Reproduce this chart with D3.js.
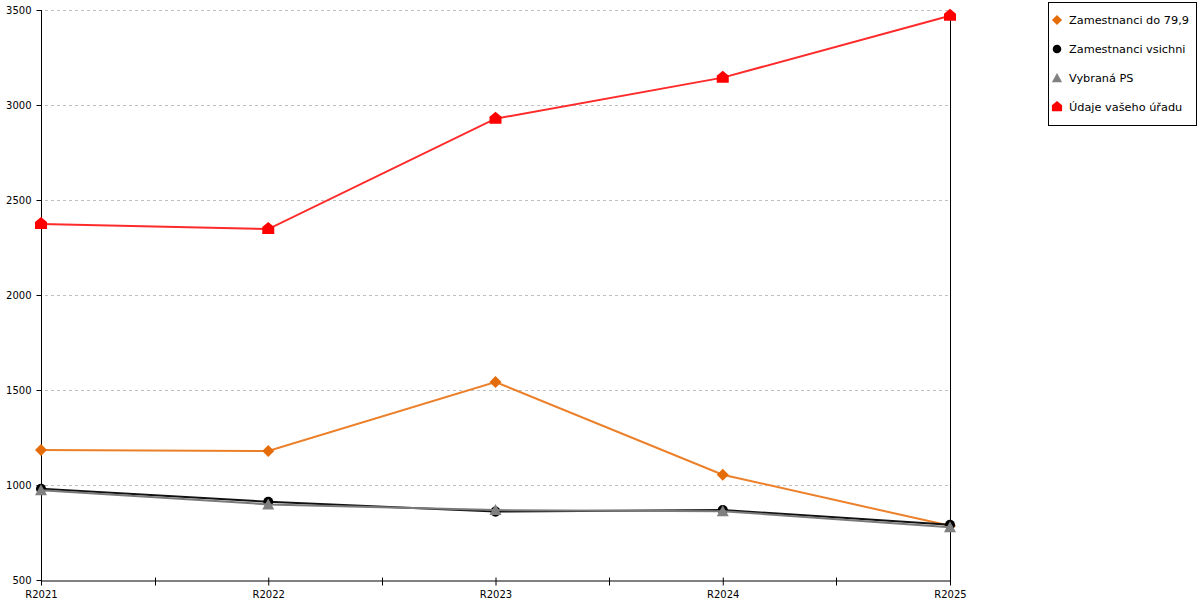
<html>
<head>
<script src="https://d3js.org/d3.v7.min.js"></script>
<style>
  body { margin: 0; background: #fff; }
  text { font-family: "DejaVu Sans", sans-serif; fill: #000; }
</style>
</head>
<body>
<script>
var years = ["R2021", "R2022", "R2023", "R2024", "R2025"];
var yTicks = [500, 1000, 1500, 2000, 2500, 3000, 3500];

var seriesNames = ["Zamestnanci do 79,9", "Zamestnanci vsichni", "Vybraná PS", "Údaje vašeho úřadu"];
var do799 = [1184, 1179, 1542, 1054, 785];
var vsichni = [980, 912, 860, 868, 791];
var vybranaPS = [972, 898, 868, 862, 778];
var udaje = [2374, 2347, 2928, 3144, 3470];

var width = 1200, height = 600;
var margin = {top: 10, right: 250, bottom: 20, left: 41};

var svg = d3.select("body").append("svg")
    .attr("width", width)
    .attr("height", height);

var x = d3.scalePoint()
    .domain(years)
    .range([margin.left, width - margin.right]);

var y = d3.scaleLinear()
    .domain([500, 3500])
    .range([height - margin.bottom, margin.top]);

// dashed grid
svg.append("g")
    .selectAll("line")
    .data(yTicks.slice(1)).enter()
    .append("line")
    .attr("x1", margin.left + 4)
    .attr("x2", width - margin.right)
    .attr("y1", d => Math.round(y(d)) + 0.5)
    .attr("y2", d => Math.round(y(d)) + 0.5)
    .attr("stroke", "#c0c0c0")
    .attr("stroke-dasharray", "3,3");

// right frame line
svg.append("line")
    .attr("x1", width - margin.right + 0.5)
    .attr("x2", width - margin.right + 0.5)
    .attr("y1", y(3500))
    .attr("y2", y(500))
    .attr("stroke", "#000");

// y axis
svg.append("g")
    .attr("transform", "translate(" + (margin.left + 0.5) + ",0)")
    .call(d3.axisLeft(y).tickValues(yTicks).tickSize(5).tickPadding(5).tickFormat(d3.format("d")))
    .call(g => g.select(".domain").attr("d", "M0," + y(3500) + "V" + y(500)))
    .call(g => g.selectAll("text").style("font-family", "DejaVu Sans").style("font-size", "10px").attr("fill", "#000"));

// x axis
var mids = d3.pairs(years).map(p => (x(p[0]) + x(p[1])) / 2);
svg.append("g")
    .attr("transform", "translate(0," + (Math.round(y(500)) + 0.5) + ")")
    .call(d3.axisBottom(x).tickSize(5).tickPadding(5).tickSizeOuter(0))
    .call(g => g.selectAll(".tick line").attr("y1", -3))
    .call(g => g.selectAll("text").style("font-family", "DejaVu Sans").style("font-size", "10px").attr("fill", "#000"))
    .call(g => g.selectAll(".minor").data(mids).enter()
        .append("line")
        .attr("x1", d => Math.round(d) + 0.5)
        .attr("x2", d => Math.round(d) + 0.5)
        .attr("y1", -3)
        .attr("y2", 5)
        .attr("stroke", "#000"));

var series = [
    {name: seriesNames[0], values: do799, color: "#e46c0a", line: "#ec802a", shape: "diamond"},
    {name: seriesNames[1], values: vsichni, color: "#000000", line: "#111111", shape: "circle"},
    {name: seriesNames[2], values: vybranaPS, color: "#808080", line: "#7a7a7a", shape: "triangle"},
    {name: seriesNames[3], values: udaje, color: "#ff0000", line: "#ff2a2a", shape: "house"}
];

function marker(shape) {
    if (shape === "diamond") return "M0,-6L6,0L0,6L-6,0Z";
    if (shape === "circle") return d3.symbol().type(d3.symbolCircle).size(80)();
    if (shape === "triangle") return "M0,-6L6,5L-6,5Z";
    return "M0,-7L6,-2L6,5L-6,5L-6,-2Z";
}

var line = d3.line()
    .x((d, i) => x(years[i]))
    .y(d => y(d));

series.forEach(function(s) {
    var g = svg.append("g");
    g.append("path")
        .datum(s.values)
        .attr("fill", "none")
        .attr("stroke", s.line)
        .attr("stroke-width", 2)
        .attr("d", line);
    g.selectAll("path.m")
        .data(s.values).enter()
        .append("path")
        .attr("class", "m")
        .attr("transform", (d, i) => "translate(" + x(years[i]) + "," + y(d) + ")")
        .attr("d", marker(s.shape))
        .attr("fill", s.color);
});

// legend
var legend = svg.append("g");
legend.append("rect")
    .attr("x", 1048.5)
    .attr("y", 2.5)
    .attr("width", 148)
    .attr("height", 123)
    .attr("fill", "#fff")
    .attr("stroke", "#000");

var item = legend.selectAll("g.item")
    .data(series).enter()
    .append("g")
    .attr("class", "item")
    .attr("transform", (d, i) => "translate(1057," + (20 + i * 29) + ")");
item.append("path")
    .attr("d", d => marker(d.shape))
    .attr("transform", "scale(0.85)")
    .attr("fill", d => d.color);
item.append("text")
    .attr("x", 12)
    .attr("y", 4)
    .style("font-size", "11.3px")
    .text(d => d.name);
</script>
</body>
</html>
